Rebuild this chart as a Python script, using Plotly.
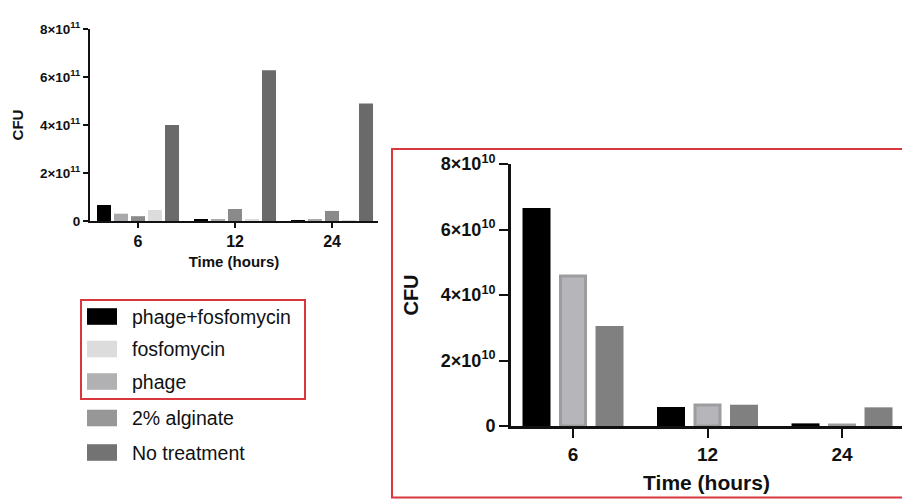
import plotly.graph_objects as go

# ---------------- data ----------------
times = ["6", "12", "24"]
phage_fosfomycin = [6.66e10, 0.58e10, 0.08e10]
fosfomycin = [4.58e10, 0.64e10, 0.03e10]
phage = [3.05e10, 0.65e10, 0.57e10]
alginate_2pct = [2.0e10, 5.0e10, 4.2e10]
no_treatment = [4.0e11, 6.28e11, 4.9e11]

left_tickvals = [0, 2e11, 4e11, 6e11, 8e11]
left_ticktext = ["0", "2×10<sup>11</sup>", "4×10<sup>11</sup>", "6×10<sup>11</sup>", "8×10<sup>11</sup>"]
right_tickvals = [0, 2e10, 4e10, 6e10, 8e10]
right_ticktext = ["0", "2×10<sup>10</sup>", "4×10<sup>10</sup>", "6×10<sup>10</sup>", "8×10<sup>10</sup>"]

legend_names = ["phage+fosfomycin", "fosfomycin", "phage", "2% alginate", "No treatment"]
legend_colors = ["#000000", "#dcdcdc", "#b1b1b4", "#979797", "#737373"]

# ---------------- layout helpers ----------------
W, H = 902, 499
FONT = "Liberation Sans, Arial, Helvetica, sans-serif"


def px(x):
    return x / W


def py(y):
    return 1 - y / H


fig = go.Figure()

# ---------- left (overview) chart: five series ----------
left_series = [
    (phage_fosfomycin, "#000000"),
    (phage, "#a9a9ac"),
    (alginate_2pct, "#8a8a8a"),
    (fosfomycin, "#dcdcdc"),
    (no_treatment, "#6a6a6a"),
]
slot_l, bw_l = 17 / 97, 14 / 97
for i, (vals, col) in enumerate(left_series):
    fig.add_trace(go.Bar(
        x=times, y=vals, xaxis="x", yaxis="y",
        marker=dict(color=col, line=dict(width=0)),
        offset=(i - 2) * slot_l - bw_l / 2, width=bw_l,
        showlegend=False,
    ))

# ---------- right (zoomed) chart: three series ----------
right_series = [
    (phage_fosfomycin, "#000000", None),
    (fosfomycin, "#b6b6ba", "#9d9da0"),
    (phage, "#808080", None),
]
slot_r, bw_r = 36.5 / 134.5, 28 / 134.5
for i, (vals, col, lc) in enumerate(right_series):
    w = bw_r - (3 / 134.5 if lc else 0)
    fig.add_trace(go.Bar(
        x=times, y=vals, xaxis="x2", yaxis="y2",
        marker=dict(color=col, line=dict(width=3 if lc else 0, color=lc or col)),
        offset=(i - 1) * slot_r - w / 2, width=w,
        showlegend=False,
    ))

axis_common = dict(showgrid=False, zeroline=False, showline=True, linecolor="#111111",
                   ticks="outside", tickcolor="#111111", automargin=False)

fig.update_layout(
    width=W, height=H,
    margin=dict(l=0, r=0, t=0, b=0, autoexpand=False),
    paper_bgcolor="white", plot_bgcolor="white",
    barmode="overlay",
    font=dict(family=FONT, color="#111111"),
    xaxis=dict(
        **axis_common, domain=[px(90), px(378)], anchor="y",
        type="category", range=[-0.495, 2.474],
        linewidth=2, ticklen=5, tickwidth=1.5,
        tickfont=dict(size=16, weight="bold"),
        title=dict(text="Time (hours)", font=dict(size=15, weight="bold"), standoff=7),
    ),
    yaxis=dict(
        **axis_common, domain=[py(221), py(29)], anchor="x",
        range=[0, 8e11], linewidth=2, ticklen=5, tickwidth=1.5,
        tickvals=left_tickvals, ticktext=left_ticktext,
        tickfont=dict(size=13.5, weight="bold"),
        title=dict(text="CFU", font=dict(size=15, weight="bold"), standoff=13),
    ),
    xaxis2=dict(
        **axis_common, domain=[px(511), 1.0], anchor="y2",
        type="category", range=[-0.461, 2.446],
        linewidth=3, ticklen=9, tickwidth=2,
        tickfont=dict(size=19, weight="bold"),
        title=dict(text="Time (hours)", font=dict(size=21, weight="bold"), standoff=12),
    ),
    yaxis2=dict(
        **axis_common, domain=[py(426), py(164)], anchor="x2",
        range=[0, 8e10], linewidth=3, ticklen=9, tickwidth=2,
        tickvals=right_tickvals, ticktext=right_ticktext,
        tickfont=dict(size=18, weight="bold"),
        title=dict(text="CFU", font=dict(size=20, weight="bold"), standoff=17),
    ),
)

shapes = []
annotations = []
RED = "#d8383b"
# red frame around the zoomed chart
shapes.append(dict(type="rect", xref="paper", yref="paper",
                   x0=px(392), x1=px(910), y0=py(497.5), y1=py(149),
                   line=dict(color=RED, width=2), fillcolor="rgba(0,0,0,0)"))
# red frame around first three legend entries
shapes.append(dict(type="rect", xref="paper", yref="paper",
                   x0=px(81), x1=px(305), y0=py(399), y1=py(300),
                   line=dict(color=RED, width=2), fillcolor="rgba(0,0,0,0)"))

# legend (swatches + labels)
row_y = [316.5, 349, 381.5, 418, 452.5]
for name, col, yc in zip(legend_names, legend_colors, row_y):
    shapes.append(dict(type="rect", xref="paper", yref="paper",
                       x0=px(87), x1=px(117), y0=py(yc + 8.3), y1=py(yc - 8.3),
                       line=dict(width=0), fillcolor=col))
    annotations.append(dict(xref="paper", yref="paper", x=px(130), y=py(yc),
                            xanchor="left", yanchor="middle", showarrow=False,
                            text=name, font=dict(size=19.5, color="#111111", family=FONT)))

fig.update_layout(shapes=shapes, annotations=annotations)

fig.write_html("out.html")
